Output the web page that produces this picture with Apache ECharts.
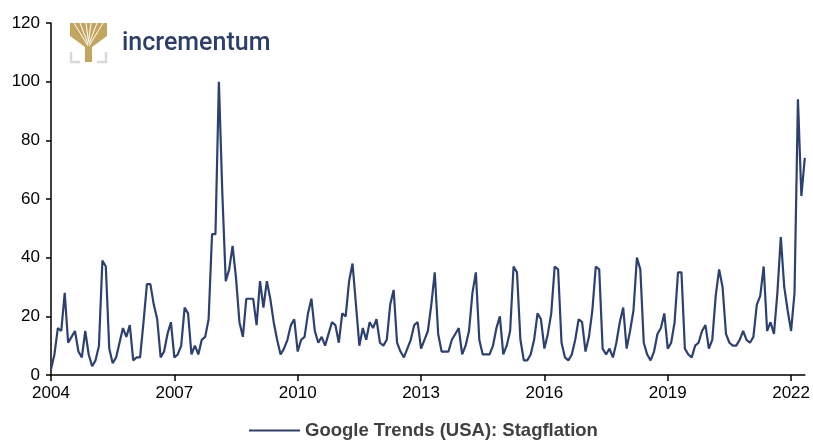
<!DOCTYPE html>
<html>
<head>
<meta charset="utf-8">
<script src="https://cdn.jsdelivr.net/npm/echarts@6/dist/echarts.min.js"></script>
<style>
html,body{margin:0;padding:0;background:#fff;}
#chart{width:813px;height:441px;}
</style>
</head>
<body>
<div id="chart"></div>
<script>
// Monthly Google Trends index (USA) for "Stagflation", Jan 2004 - May 2022
const startYear = 2004;
const values2004_2007 = [
  2, 7, 16, 15, 28, 11, 13, 15, 8, 6, 15, 7,
  3, 5, 10, 39, 37, 9, 4, 6, 11, 16, 13, 17,
  5, 6, 6, 18, 31, 31, 24, 19, 6, 8, 14, 18,
  6, 7, 10, 23, 21, 7, 10, 7, 12, 13, 19, 48
];
const values2008_2011 = [
  48, 100, 62, 32, 36, 44, 33, 18, 13, 26, 26, 26,
  17, 32, 23, 32, 26, 18, 12, 7, 9, 12, 17, 19,
  8, 12, 13, 21, 26, 15, 11, 13, 10, 14, 18, 17,
  11, 21, 20, 32, 38, 24, 10, 16, 12, 18, 16, 19
];
const values2012_2015 = [
  11, 10, 12, 24, 29, 11, 8, 6, 9, 12, 17, 18,
  9, 12, 15, 24, 35, 14, 8, 8, 8, 12, 14, 16,
  7, 10, 15, 28, 35, 12, 7, 7, 7, 10, 16, 20,
  7, 10, 15, 37, 35, 12, 5, 5, 7, 12, 21, 19
];
const values2016_2019 = [
  9, 14, 21, 37, 36, 11, 6, 5, 7, 12, 19, 18,
  8, 13, 22, 37, 36, 9, 7, 9, 6, 11, 18, 23,
  9, 15, 22, 40, 36, 11, 7, 5, 8, 14, 16, 21,
  9, 11, 18, 35, 35, 9, 7, 6, 10, 11, 15, 17
];
const values2020_2022 = [
  9, 12, 27, 36, 30, 14, 11, 10, 10, 12, 15, 12,
  11, 13, 24, 27, 37, 15, 18, 14, 28, 47, 30, 22,
  15, 28, 94, 61, 74
];
const seriesName = 'Google Trends (USA): Stagflation';
const yTicks = [0, 20, 40, 60, 80, 100, 120];
const xTickYears = [2004, 2007, 2010, 2013, 2016, 2019, 2022];

const values = [].concat(values2004_2007, values2008_2011, values2012_2015, values2016_2019, values2020_2022);
const months = values.map((v, i) => {
  const y = startYear + Math.floor(i / 12);
  const m = (i % 12) + 1;
  return y + '-' + (m < 10 ? '0' + m : m);
});
const isTick = (idx) => {
  const s = months[idx];
  return s.endsWith('-01') && xTickYears.indexOf(parseInt(s.slice(0, 4))) >= 0;
};

const navy = '#2d4170';
const chart = echarts.init(document.getElementById('chart'), null, {renderer: 'canvas'});
chart.setOption({
  animation: false,
  grid: {left: 51, right: 8, top: 23, bottom: 66},
  xAxis: {
    type: 'category',
    data: months,
    boundaryGap: false,
    axisLine: {lineStyle: {color: '#000', width: 1.5}},
    axisTick: {show: true, length: 6, lineStyle: {color: '#000', width: 1.5}, interval: (i) => isTick(i)},
    axisLabel: {
      interval: (i) => isTick(i),
      formatter: (v) => v.slice(0, 4),
      color: '#000', fontFamily: 'Liberation Sans, Arial', fontSize: 17, margin: 10
    },
    splitLine: {show: false}
  },
  yAxis: {
    type: 'value',
    min: yTicks[0], max: yTicks[yTicks.length - 1], interval: 20,
    axisLine: {show: true, lineStyle: {color: '#000', width: 1.5}},
    axisTick: {show: true, length: 5, lineStyle: {color: '#000', width: 1.5}},
    axisLabel: {color: '#000', fontFamily: 'Liberation Sans, Arial', fontSize: 17, margin: 11},
    splitLine: {show: false}
  },
  legend: {
    top: 416,
    left: 244,
    itemWidth: 51,
    itemHeight: 2,
    itemGap: 8,
    textStyle: {color: '#404040', fontFamily: 'Liberation Sans, Arial', fontSize: 18.5, fontWeight: 'bold'},
    data: [{name: seriesName, icon: 'rect'}]
  },
  series: [{
    name: seriesName,
    type: 'line',
    data: values,
    symbol: 'none',
    lineStyle: {color: navy, width: 2.2},
    itemStyle: {color: navy}
  }],
  graphic: [
    {type: 'polygon', shape: {points: [[70,23],[107,23],[107,36],[92,47],[92,62],[85,62],[85,47],[70,36]]}, style: {fill: '#c4a55f'}},
    {type: 'polyline', shape: {points: [[88,46],[74,23]]}, style: {stroke: '#fff', lineWidth: 1}},
    {type: 'polyline', shape: {points: [[88,44],[80,23]]}, style: {stroke: '#fff', lineWidth: 1}},
    {type: 'polyline', shape: {points: [[88.5,42],[86,23]]}, style: {stroke: '#fff', lineWidth: 1}},
    {type: 'polyline', shape: {points: [[88.5,42],[91,23]]}, style: {stroke: '#fff', lineWidth: 1}},
    {type: 'polyline', shape: {points: [[89,44],[97,23]]}, style: {stroke: '#fff', lineWidth: 1}},
    {type: 'polyline', shape: {points: [[89,46],[103,23]]}, style: {stroke: '#fff', lineWidth: 1}},
    {type: 'polyline', shape: {points: [[71,52],[71,62],[80,62]]}, style: {stroke: '#d9d9d9', lineWidth: 2.5, fill: null}},
    {type: 'polyline', shape: {points: [[106,52],[106,62],[97,62]]}, style: {stroke: '#d9d9d9', lineWidth: 2.5, fill: null}},
    {type: 'text', left: 122, top: 31, style: {text: 'incrementum', fill: '#2c3f6b', font: '500 25px Roboto, sans-serif'}}
  ]
});
</script>
</body>
</html>
